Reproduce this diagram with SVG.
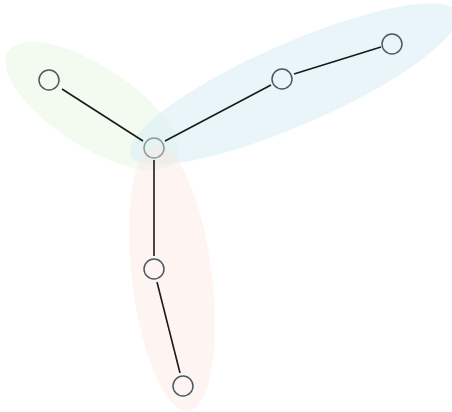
<svg xmlns="http://www.w3.org/2000/svg" width="452" height="412" viewBox="0 0 452 412">
  <style>
    .hull { stroke: none; }
    .edge { stroke: #1a1a1a; stroke-width: 1.6; fill: none; }
    .node { fill: none; stroke: #4a5a63; stroke-width: 1.5; }
    .hub { fill: none; stroke: #8c9c9e; stroke-width: 1.5; }
  </style>
  <rect width="452" height="412" fill="#ffffff"/>
  <g id="clusters">
    <ellipse class="hull" cx="92" cy="106" rx="100" ry="40" transform="rotate(33 92 106)" fill="#e8f5e1" fill-opacity="0.5"/>
    <ellipse class="hull" cx="294" cy="84" rx="178" ry="41" transform="rotate(-23.6 294 84)" fill="#d6ebf5" fill-opacity="0.5"/>
    <ellipse class="hull" cx="172" cy="278" rx="134" ry="40" transform="rotate(83 172 278)" fill="#fce6df" fill-opacity="0.4"/>
  </g>
  <g id="connectors">
    <line class="edge" x1="62" y1="89" x2="143" y2="141"/>
    <line class="edge" x1="165" y1="141" x2="271" y2="85"/>
    <line class="edge" x1="294" y1="74" x2="381" y2="47"/>
    <line class="edge" x1="154" y1="160" x2="154" y2="256"/>
    <line class="edge" x1="157" y1="282" x2="180" y2="373"/>
  </g>
  <g id="n-hub"><circle class="hub" cx="154" cy="148" r="10"/></g>
  <g id="n-green"><circle class="node" cx="49" cy="80" r="10"/></g>
  <g id="n-blue1"><circle class="node" cx="282" cy="79" r="10"/></g>
  <g id="n-blue2"><circle class="node" cx="392" cy="44" r="10"/></g>
  <g id="n-red1"><circle class="node" cx="154" cy="269" r="10"/></g>
  <g id="n-red2"><circle class="node" cx="183" cy="386" r="10"/></g>
</svg>
